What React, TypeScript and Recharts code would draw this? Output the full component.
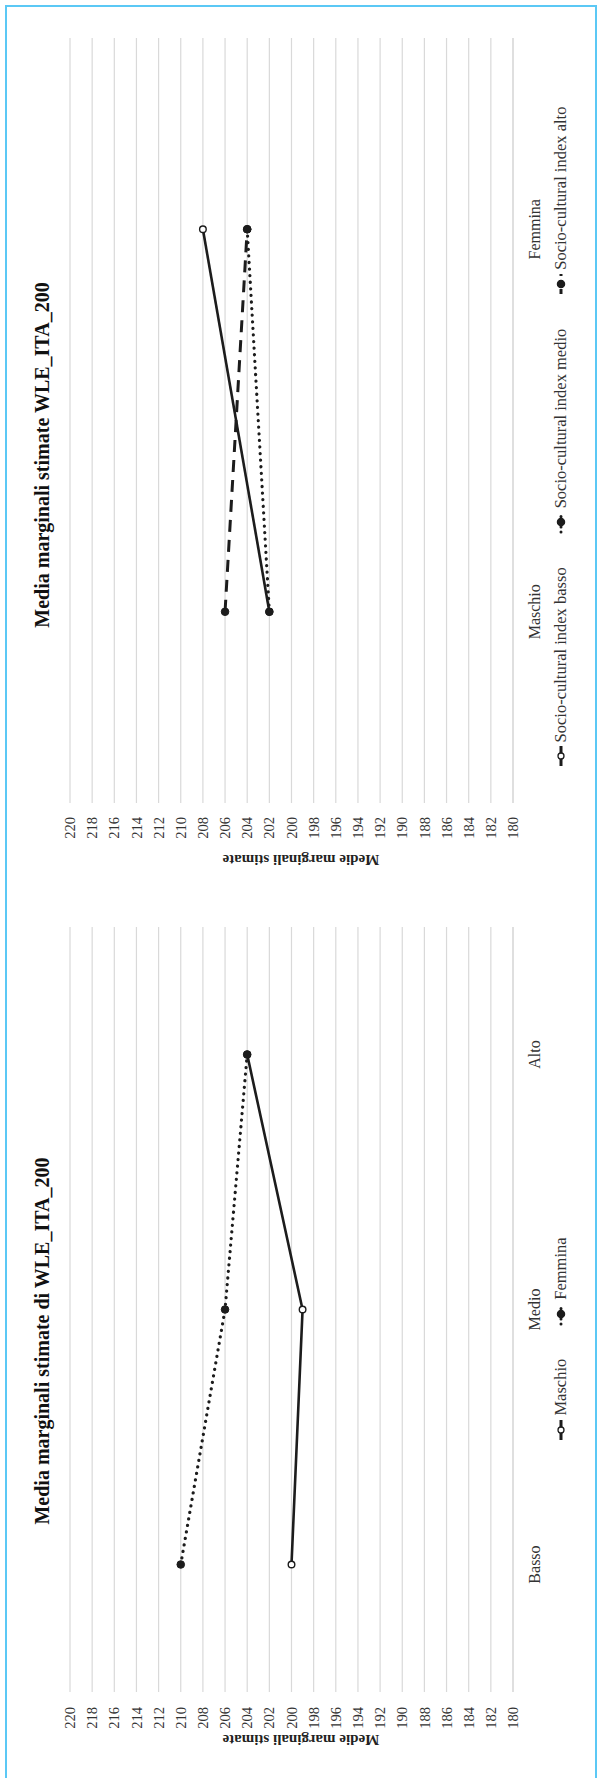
import React from 'react';
import { LineChart, Line, XAxis, YAxis, CartesianGrid } from 'recharts';

// asse dei valori condiviso
const yTicks = [180, 182, 184, 186, 188, 190, 192, 194, 196, 198, 200, 202, 204, 206, 208, 210, 212, 214, 216, 218, 220];

// grafico 1: livello socio-culturale x genere
const livelli = ['Basso', 'Medio', 'Alto'];
const maschio = [200, 199, 204];
const femmina = [210, 206, 204];

// grafico 2: genere x indice socio-culturale
const generi = ['Maschio', 'Femmina'];
const indexBasso = [202, 208];
const indexMedio = [202, 204];
const indexAlto = [206, 204];

const INK = '#1c1c1c';
const GRID = '#d9d9d9';
const SERIF = "'Liberation Serif', 'Times New Roman', serif";

type Kind = 'solid' | 'dotted' | 'dashed';
interface Serie { key: string; name: string; kind: Kind; open: boolean }

const strokeFor = (kind: Kind) =>
  kind === 'solid' ? { strokeWidth: 2.6 } :
  kind === 'dotted' ? { strokeWidth: 3.2, strokeDasharray: '0.1 6.5', strokeLinecap: 'round' as const } :
  { strokeWidth: 3, strokeDasharray: '12 8' };

const makeDot = (open: boolean) => (p: any) => (
  <circle key={`${p.dataKey}-${p.index}`} cx={p.cx} cy={p.cy} r={open ? 3.3 : 3.8}
    fill={open ? '#fff' : INK} stroke={INK} strokeWidth={open ? 1.4 : 1} />
);

function LegendIcon({ kind, open }: { kind: Kind; open: boolean }) {
  const s = kind === 'dotted' ? { strokeDasharray: '0.1 5', strokeLinecap: 'round' as const } :
    kind === 'dashed' ? { strokeDasharray: '5 4' } : {};
  return (
    <svg width={26} height={12} style={{ marginRight: 1 }}>
      <line x1={3} y1={6} x2={23} y2={6} stroke={INK} {...s} strokeWidth={3} />
      <circle cx={13} cy={6} r={open ? 3 : 3.6} fill={open ? '#fff' : INK} stroke={INK} strokeWidth={1.3} />
    </svg>
  );
}

interface Props {
  data: any[];
  series: Serie[];
  title: string;
  left: number; bottom: number; w: number; h: number;
  plotLeft: number; plotRight: number; // in unrotated coordinates
  pad: number;
  tickMargin: number;
  titleU: number; legendU: number; axisTitleU: number;
}

function RotatedChart(p: Props) {
  const { w, h } = p;
  return (
    <div style={{ position: 'absolute', left: p.left, top: p.bottom, width: w, height: h, transform: 'rotate(-90deg)', transformOrigin: '0 0' }}>
      <div style={{ position: 'absolute', left: p.titleU - 300, width: 600, top: 25, textAlign: 'center', fontWeight: 'bold', fontSize: 20, color: '#111', lineHeight: '22px' }}>
        {p.title}
      </div>
      <div style={{ position: 'absolute', left: p.axisTitleU - 150, top: 285, width: 300, height: 20, lineHeight: '20px', textAlign: 'center', fontWeight: 'bold', fontSize: 15, color: '#222', transform: 'rotate(-90deg)' }}>
        Medie marginali stimate
      </div>
      <LineChart width={w} height={h} data={p.data} margin={{ top: 64, right: w - p.plotRight, bottom: 39, left: 5 }}>
        <CartesianGrid vertical={false} stroke={GRID} strokeWidth={1.2} />
        <XAxis dataKey="cat" tickLine={false} axisLine={{ stroke: GRID, strokeWidth: 1.2 }} height={40}
          padding={{ left: p.pad, right: p.pad }} tickMargin={10}
          tick={{ fontFamily: SERIF, fontSize: 16, fill: '#333' }} />
        <YAxis type="number" domain={[180, 220]} ticks={yTicks} interval={0} width={p.plotLeft - 5}
          tickLine={false} axisLine={false} tickMargin={p.tickMargin}
          tick={{ fontFamily: SERIF, fontSize: 14.5, fill: '#333' }} />
        {p.series.map(s => (
          <Line key={s.key} dataKey={s.key} name={s.name} type="linear" stroke={INK} {...strokeFor(s.kind)}
            dot={makeDot(s.open)} activeDot={false} isAnimationActive={false} />
        ))}
      </LineChart>
      <div style={{ position: 'absolute', left: p.legendU - 400, width: 800, top: 545, display: 'flex', justifyContent: 'center', alignItems: 'center', fontSize: 16.5, color: '#333', lineHeight: '20px' }}>
        {p.series.map(s => (
          <div key={s.key} style={{ display: 'flex', alignItems: 'center', margin: '0 16px' }}>
            <LegendIcon kind={s.kind} open={s.open} />
            <span>{s.name}</span>
          </div>
        ))}
      </div>
    </div>
  );
}

export default function App() {
  const dataGenere = livelli.map((cat, i) => ({ cat, maschio: maschio[i], femmina: femmina[i] }));
  const dataIndice = generi.map((cat, i) => ({ cat, basso: indexBasso[i], medio: indexMedio[i], alto: indexAlto[i] }));

  return (
    <div style={{ position: 'absolute', top: 0, left: 0, width: 598, height: 1778, overflow: 'hidden', background: '#fff', fontFamily: SERIF }}>
      <div style={{ position: 'absolute', left: 5, top: 5, width: 592, height: 1790, border: '2px solid #5bc8f5', boxSizing: 'border-box' }} />
      <RotatedChart
        data={dataIndice}
        series={[
          { key: 'basso', name: 'Socio-cultural index basso', kind: 'solid', open: true },
          { key: 'medio', name: 'Socio-cultural index medio', kind: 'dotted', open: false },
          { key: 'alto', name: 'Socio-cultural index alto', kind: 'dashed', open: false },
        ]}
        title="Media marginali stimate WLE_ITA_200"
        left={6} bottom={880} w={874} h={586}
        plotLeft={77} plotRight={842} pad={191.25} tickMargin={8}
        titleU={425} legendU={442} axisTitleU={20}
      />
      <RotatedChart
        data={dataGenere}
        series={[
          { key: 'maschio', name: 'Maschio', kind: 'solid', open: true },
          { key: 'femmina', name: 'Femmina', kind: 'dotted', open: false },
        ]}
        title="Media marginali stimate di WLE_ITA_200"
        left={6} bottom={1776} w={870} h={586}
        plotLeft={84} plotRight={849} pad={127.5} tickMargin={9}
        titleU={435} legendU={436} axisTitleU={36}
      />
    </div>
  );
}
